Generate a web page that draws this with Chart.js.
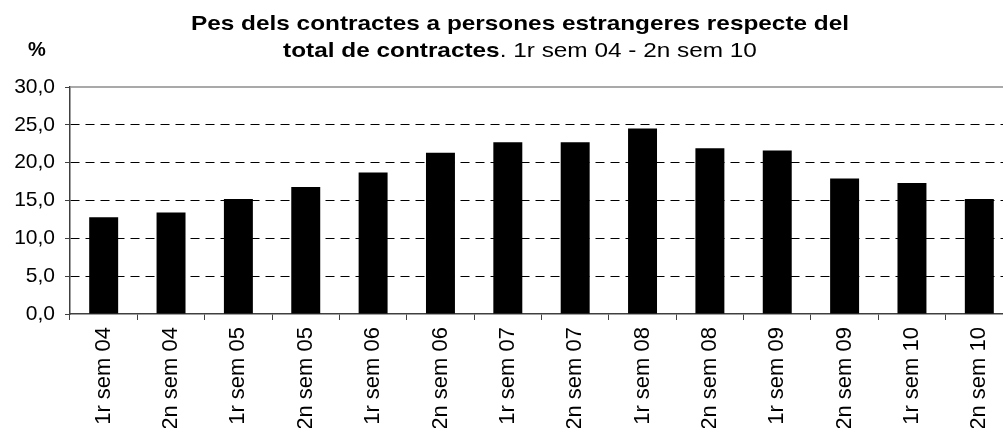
<!DOCTYPE html>
<html>
<head>
<meta charset="utf-8">
<script src="https://cdn.jsdelivr.net/npm/chart.js@4"></script>
<style>
    html, body { margin: 0; padding: 0; background: #fff; overflow: hidden; }
    #wrap { width: 1016px; height: 428px; }
</style>
</head>
<body>
<div id="wrap"><canvas id="pesChart"></canvas></div>
<script>
const categories = [
    '1r sem 04', '2n sem 04', '1r sem 05', '2n sem 05', '1r sem 06', '2n sem 06', '1r sem 07',
    '2n sem 07', '1r sem 08', '2n sem 08', '1r sem 09', '2n sem 09', '1r sem 10', '2n sem 10'
];
const pesValues = [12.8, 13.4, 15.2, 16.8, 18.7, 21.3, 22.7, 22.7, 24.5, 21.9, 21.6, 17.9, 17.3, 15.2];
const yTicks = [0, 5, 10, 15, 20, 25, 30];

const titleLine1 = 'Pes dels contractes a persones estrangeres respecte del';
const titleLine2Bold = 'total de contractes';
const titleLine2Rest = '. 1r sem 04 - 2n sem 10';
const yUnit = '%';

const FONT = '"Liberation Sans", Arial, sans-serif';

// title (slightly stretched like the original), % label and plot-area top border
const decorPlugin = {
    id: 'decor',
    afterDraw(chart) {
        const c = chart.ctx;
        const area = chart.chartArea;
        c.save();
        c.strokeStyle = '#8c8c8c';
        c.lineWidth = 1.5;
        c.beginPath();
        c.moveTo(area.left, area.top);
        c.lineTo(area.right, area.top);
        c.stroke();

        const cx = 520;
        const sx = 1.16;
        c.fillStyle = '#000';
        c.textBaseline = 'middle';

        c.save();
        c.translate(cx, 24);
        c.scale(sx, 1);
        c.textAlign = 'center';
        c.font = 'bold 21px ' + FONT;
        c.fillText(titleLine1, 0, 0);
        c.restore();

        c.save();
        c.translate(cx, 51);
        c.scale(sx, 1);
        c.textAlign = 'left';
        c.font = 'bold 21px ' + FONT;
        const wBold = c.measureText(titleLine2Bold).width;
        c.font = '21px ' + FONT;
        const wRest = c.measureText(titleLine2Rest).width;
        const start = -(wBold + wRest) / 2;
        c.font = 'bold 21px ' + FONT;
        c.fillText(titleLine2Bold, start, 0);
        c.font = '21px ' + FONT;
        c.fillText(titleLine2Rest, start + wBold, 0);
        c.restore();

        c.textAlign = 'center';
        c.font = 'bold 20px ' + FONT;
        c.fillText(yUnit, 37, 50);
        c.restore();
    }
};

new Chart(document.getElementById('pesChart'), {
    type: 'bar',
    data: {
        labels: categories,
        datasets: [{
            data: pesValues,
            backgroundColor: '#000',
            borderWidth: 0,
            barPercentage: 0.43,
            categoryPercentage: 1
        }]
    },
    options: {
        responsive: true,
        maintainAspectRatio: false,
        animation: false,
        layout: { padding: { top: 87, left: 0, right: 3, bottom: 0 } },
        plugins: {
            legend: { display: false },
            title: { display: false },
            tooltip: { enabled: false }
        },
        scales: {
            x: {
                grid: {
                    offset: true,
                    drawOnChartArea: false,
                    tickLength: 6,
                    color: '#404040'
                },
                border: { color: '#404040', width: 1.5 },
                ticks: {
                    color: '#000',
                    font: { family: FONT, size: 22 },
                    minRotation: 90,
                    maxRotation: 90,
                    padding: 7,
                    autoSkip: false
                },
                afterFit(scale) { scale.height = 114; }
            },
            y: {
                min: 0,
                max: 30,
                afterBuildTicks(scale) {
                    scale.ticks = yTicks.map(v => ({ value: v }));
                },
                grid: {
                    color: ctx => (ctx.tick && (ctx.tick.value === 0 || ctx.tick.value === 30)) ? 'rgba(0,0,0,0)' : '#000',
                    tickColor: '#404040',
                    tickLength: 5,
                    lineWidth: 1
                },
                border: { color: '#404040', width: 1.5, dash: [9, 6] },
                ticks: {
                    color: '#000',
                    font: { family: FONT, size: 21 },
                    padding: 10,
                    callback: v => v.toFixed(1).replace('.', ',')
                },
                afterFit(scale) { scale.width = 70; }
            }
        }
    },
    plugins: [decorPlugin]
});
</script>
</body>
</html>
